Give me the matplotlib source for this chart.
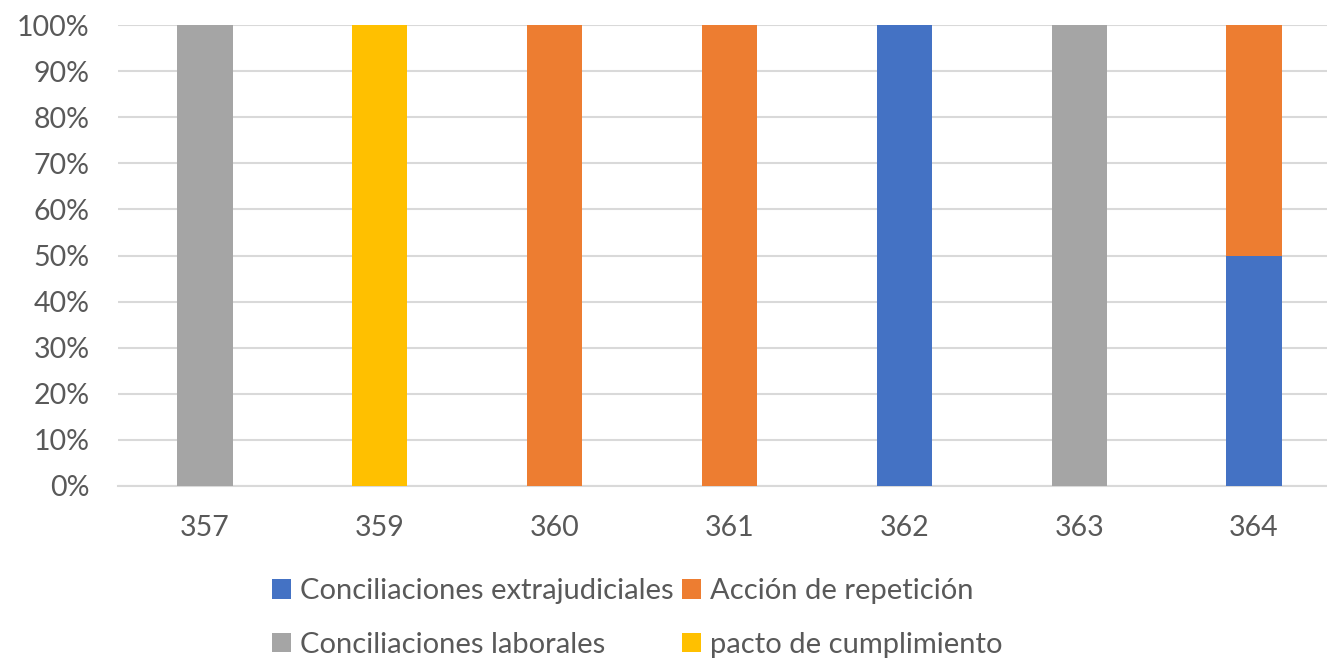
import matplotlib.pyplot as plt
import numpy as np

plt.rcParams['font.family'] = ['Lato', 'DejaVu Sans']

categories = ["357", "359", "360", "361", "362", "363", "364"]
series_names = ["Conciliaciones extrajudiciales", "Acción de repetición",
                "Conciliaciones laborales", "pacto de cumplimiento"]
extrajudiciales = [0, 0, 0, 0, 1, 0, 1]
repeticion = [0, 0, 1, 1, 0, 0, 1]
laborales = [1, 0, 0, 0, 0, 1, 0]
pacto = [0, 1, 0, 0, 0, 0, 0]

colors = ["#4472C4", "#ED7D31", "#A5A5A5", "#FFC000"]
text_color = "#595959"

data = np.array([extrajudiciales, repeticion, laborales, pacto], dtype=float)
shares = data / data.sum(axis=0)

fig = plt.figure(figsize=(13.27, 6.58), dpi=100)
# axes runs past the right edge, as in the cropped original
left = 117.6 / 1327
right = 1341.4 / 1327
ax = fig.add_axes([left, 1 - 486 / 658, right - left, (486 - 25) / 658])

x = np.arange(len(categories))
bottom = np.zeros(len(categories))
bars = []
for i, name in enumerate(series_names):
    b = ax.bar(x, shares[i], bottom=bottom, width=0.315, color=colors[i],
               label=name, zorder=3)
    bars.append(b)
    bottom += shares[i]

ax.set_xlim(-0.5, len(categories) - 0.5)
ax.set_ylim(0, 1)
ax.set_yticks(np.arange(0, 1.01, 0.1))
ax.set_yticklabels([f"{int(round(v * 100))}%" for v in np.arange(0, 1.01, 0.1)])
ax.set_xticks(x)
ax.set_xticklabels(categories)
ax.tick_params(axis='both', length=0, labelsize=20.5, colors=text_color)
ax.tick_params(axis='x', pad=21)
ax.tick_params(axis='y', pad=20)
ax.yaxis.grid(True, color="#D9D9D9", linewidth=1.5, zorder=0)
ax.set_axisbelow(True)
for side in ["top", "right", "left"]:
    ax.spines[side].set_visible(False)
ax.spines["bottom"].set_color("#D9D9D9")
ax.spines["bottom"].set_linewidth(1.5)

order = [0, 2, 1, 3]
leg = fig.legend([bars[i] for i in order], [series_names[i] for i in order],
                 ncol=2, loc="center", bbox_to_anchor=(637 / 1327, 1 - 618 / 658),
                 frameon=False, fontsize=21, handlelength=0.65, handleheight=0.65,
                 handletextpad=0.3, columnspacing=0.3, labelspacing=0.95)
for t in leg.get_texts():
    t.set_color(text_color)

fig.savefig("out.png", dpi=100)
